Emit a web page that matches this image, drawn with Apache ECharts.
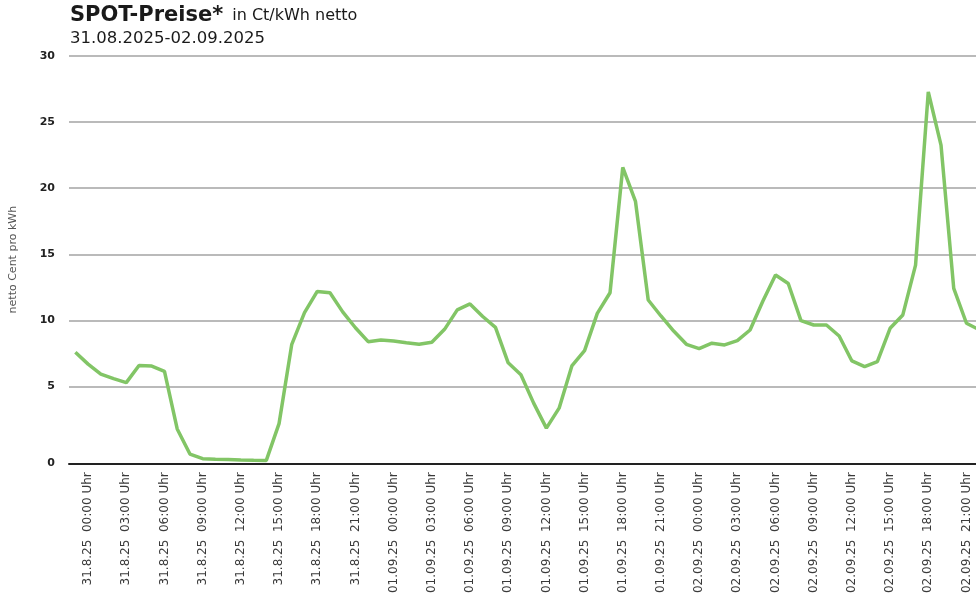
<!DOCTYPE html>
<html>
<head>
<meta charset="utf-8">
<script src="https://cdn.jsdelivr.net/npm/echarts@6/dist/echarts.min.js"></script>
<style>
html,body{margin:0;padding:0;background:#fff;}
#chart{width:976px;height:598px;}
</style>
</head>
<body>
<div id="chart"></div>
<script>
// Hourly categories: first point is 30.08 23:00, then 31.08 00:00 ... 02.09 23:00
const dayLabels = ['30.8.25', '31.8.25', '01.09.25', '02.09.25'];
const hourLabels = ['00:00','01:00','02:00','03:00','04:00','05:00','06:00','07:00','08:00','09:00','10:00','11:00',
                    '12:00','13:00','14:00','15:00','16:00','17:00','18:00','19:00','20:00','21:00','22:00','23:00'];
const categories = ['30.8.25  23:00 Uhr'];
for (let d = 1; d < dayLabels.length; d++) {
  for (let h = 0; h < hourLabels.length; h++) {
    categories.push(dayLabels[d] + '  ' + hourLabels[h] + ' Uhr');
  }
}

// SPOT prices in Ct/kWh netto
const prices = [
  7.6, 6.7, 5.95, 5.6, 5.3, 6.6, 6.55, 6.15, 1.8, -0.1,
  -0.45, -0.5, -0.52, -0.55, -0.57, -0.58, 2.2, 8.2, 10.6, 12.2,
  12.1, 10.65, 9.45, 8.4, 8.52, 8.45, 8.32, 8.2, 8.35, 9.33,
  10.8, 11.25, 10.3, 9.48, 6.8, 5.9, 3.75, 1.86, 3.37, 6.56,
  7.72, 10.54, 12.1, 21.57, 19.0, 11.55, 10.34, 9.2, 8.2, 7.87,
  8.28, 8.15, 8.47, 9.28, 11.45, 13.44, 12.8, 9.99, 9.66, 9.66,
  8.83, 6.94, 6.51, 6.89, 9.41, 10.42, 14.19, 27.28, 23.26, 12.43,
  9.79, 9.3, 9.0
];

// Y axis
const yMin = -0.8;
const yMax = 30;
const yTicks = [0, 5, 10, 15, 20, 25, 30];
const yGridValues = [5, 10, 15, 20, 25, 30];

const FONT = 'DejaVu Sans';
const chart = echarts.init(document.getElementById('chart'), null, {renderer: 'canvas'});

chart.setOption({
  animation: false,
  backgroundColor: '#ffffff',
  title: [
    {
      left: 70, top: 4, padding: 0,
      text: '{b|SPOT-Preise*}{n|in Ct/kWh netto}',
      textStyle: {
        rich: {
          b: {fontFamily: FONT, fontSize: 21, fontWeight: 'bold', color: '#1a1a1a', lineHeight: 24},
          n: {fontFamily: FONT, fontSize: 16, fontWeight: 'normal', color: '#1a1a1a', lineHeight: 24, padding: [0, 0, 0, 9]}
        }
      }
    },
    {
      left: 70, top: 29, padding: 0,
      text: '31.08.2025-02.09.2025',
      textStyle: {fontFamily: FONT, fontSize: 16.5, fontWeight: 'normal', color: '#1a1a1a', lineHeight: 20}
    }
  ],
  grid: {left: 69, top: 56, width: 929.3, height: 407.3, containLabel: false, outerBoundsMode: 'none'},
  xAxis: {
    type: 'category',
    data: categories,
    boundaryGap: true,
    axisLine: {show: true, onZero: false, lineStyle: {color: '#222', width: 2}},
    axisTick: {show: false},
    splitLine: {show: false},
    axisLabel: {
      rotate: 90,
      margin: 9,
      interval: function (index) { return index % 3 === 1; },
      fontFamily: FONT,
      fontSize: 12,
      color: '#3a3a3a'
    }
  },
  yAxis: {
    type: 'value',
    min: yMin,
    max: yMax,
    name: 'netto Cent pro kWh',
    nameLocation: 'middle',
    nameGap: 50,
    nameRotate: 90,
    nameTextStyle: {fontFamily: FONT, fontSize: 11, color: '#555'},
    axisLine: {show: false},
    axisTick: {show: false, customValues: yGridValues},
    axisLabel: {
      customValues: yTicks.map(function (v) { return v === 0 ? yMin : v; }),
      formatter: function (v) { return v === yMin ? '0' : String(v); },
      margin: 14,
      fontFamily: FONT,
      fontSize: 11,
      fontWeight: 'bold',
      color: '#222'
    },
    splitLine: {show: true, lineStyle: {color: '#a3a3a3', width: 1.5}}
  },
  series: [{
    type: 'line',
    data: prices,
    symbol: 'none',
    smooth: false,
    lineStyle: {color: '#82c566', width: 3.5},
    itemStyle: {color: '#82c566'},
    clip: false
  }]
});
</script>
</body>
</html>
